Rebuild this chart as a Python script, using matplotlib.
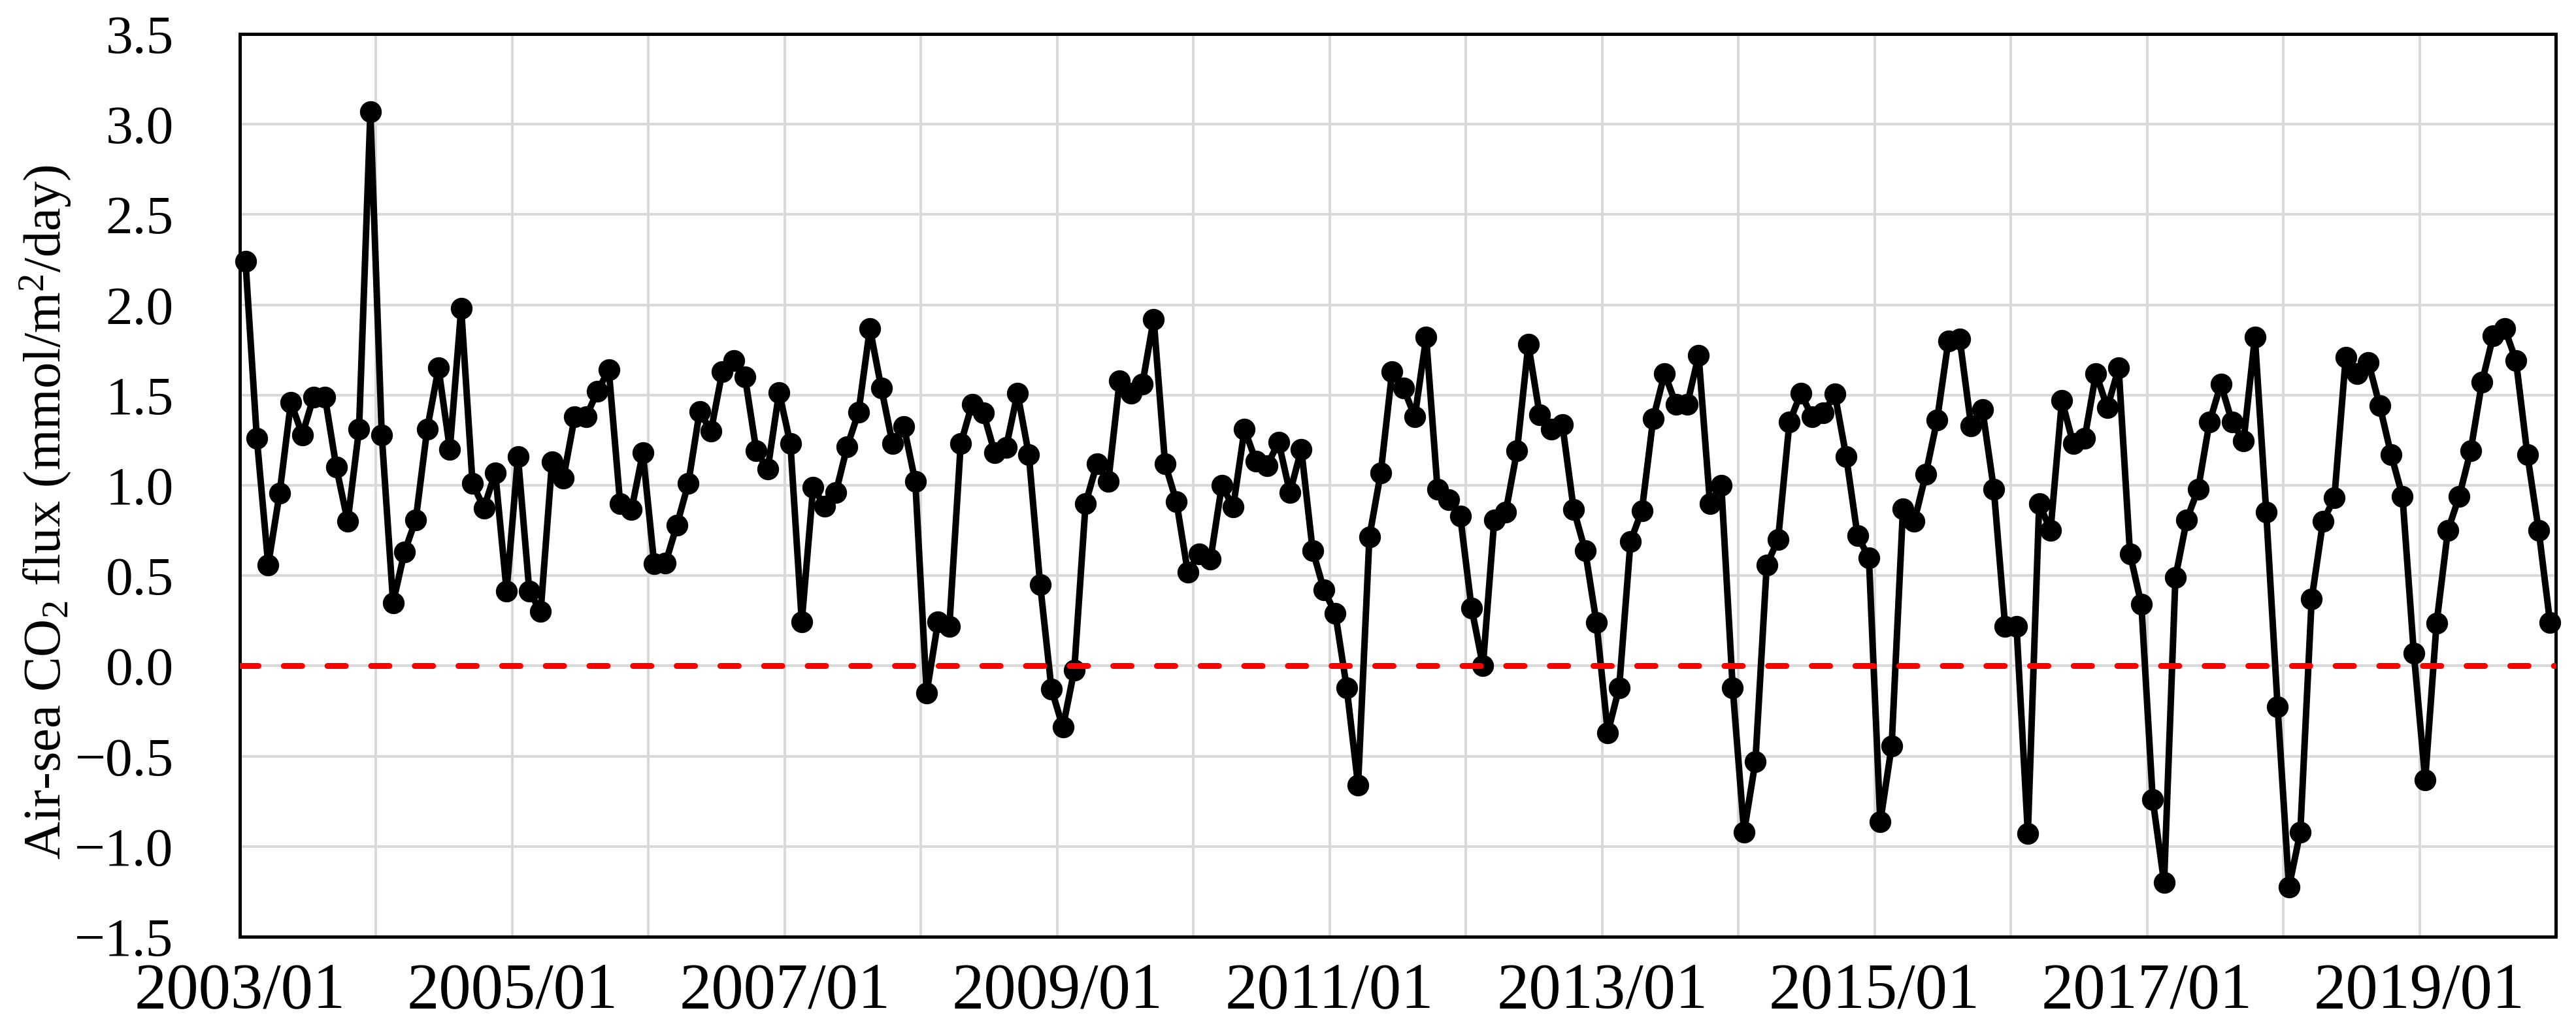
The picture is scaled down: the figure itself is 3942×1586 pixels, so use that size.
import numpy as np
import matplotlib.pyplot as plt

# monthly air-sea CO2 flux, 2003/01 .. 2019/12 (mmol/m2/day)
flux_2003 = [2.24, 1.26, 0.56, 0.955, 1.46, 1.28, 1.49, 1.49, 1.10, 0.80, 1.31, 3.07]
flux_2004 = [1.28, 0.35, 0.63, 0.81, 1.31, 1.65, 1.20, 1.98, 1.01, 0.875, 1.07, 0.415]
flux_2005 = [1.16, 0.415, 0.30, 1.13, 1.04, 1.38, 1.38, 1.52, 1.64, 0.90, 0.865, 1.18]
flux_2006 = [0.565, 0.57, 0.78, 1.01, 1.41, 1.30, 1.63, 1.69, 1.60, 1.19, 1.09, 1.515]
flux_2007 = [1.23, 0.245, 0.99, 0.886, 0.96, 1.215, 1.405, 1.87, 1.54, 1.23, 1.325, 1.02]
flux_2008 = [-0.15, 0.245, 0.22, 1.23, 1.45, 1.40, 1.18, 1.21, 1.51, 1.17, 0.45, -0.13]
flux_2009 = [-0.34, -0.025, 0.90, 1.12, 1.02, 1.58, 1.51, 1.56, 1.92, 1.12, 0.91, 0.52]
flux_2010 = [0.62, 0.59, 1.00, 0.88, 1.31, 1.135, 1.11, 1.24, 0.96, 1.20, 0.64, 0.42]
flux_2011 = [0.29, -0.12, -0.66, 0.715, 1.07, 1.63, 1.54, 1.38, 1.82, 0.98, 0.92, 0.83]
flux_2012 = [0.32, 0.00, 0.81, 0.85, 1.19, 1.78, 1.39, 1.31, 1.335, 0.865, 0.64, 0.24]
flux_2013 = [-0.37, -0.12, 0.69, 0.86, 1.37, 1.62, 1.45, 1.45, 1.72, 0.90, 1.00, -0.12]
flux_2014 = [-0.92, -0.53, 0.56, 0.70, 1.35, 1.51, 1.38, 1.40, 1.505, 1.16, 0.72, 0.60]
flux_2015 = [-0.865, -0.445, 0.87, 0.80, 1.06, 1.36, 1.80, 1.81, 1.33, 1.42, 0.98, 0.22]
flux_2016 = [0.22, -0.93, 0.90, 0.75, 1.47, 1.23, 1.26, 1.62, 1.43, 1.65, 0.62, 0.34]
flux_2017 = [-0.74, -1.20, 0.49, 0.81, 0.98, 1.35, 1.56, 1.35, 1.245, 1.82, 0.85, -0.225]
flux_2018 = [-1.225, -0.92, 0.37, 0.80, 0.93, 1.71, 1.62, 1.68, 1.44, 1.17, 0.94, 0.07]
flux_2019 = [-0.63, 0.235, 0.75, 0.94, 1.19, 1.57, 1.83, 1.87, 1.69, 1.17, 0.75, 0.24]

years = list(range(2003, 2020))
tick_labels = ['%d/01' % y if (y - 2003) % 2 == 0 else '' for y in years] + ['']
y_ticks = [-1.5, -1.0, -0.5, 0.0, 0.5, 1.0, 1.5, 2.0, 2.5, 3.0, 3.5]

flux = np.concatenate([flux_2003, flux_2004, flux_2005, flux_2006, flux_2007,
                       flux_2008, flux_2009, flux_2010, flux_2011, flux_2012,
                       flux_2013, flux_2014, flux_2015, flux_2016, flux_2017,
                       flux_2018, flux_2019])
x = np.arange(len(flux)) + 0.5   # points sit in the middle of each month slot

plt.rcParams['font.family'] = ['Liberation Serif', 'DejaVu Serif']
plt.rcParams['mathtext.fontset'] = 'custom'
plt.rcParams['mathtext.rm'] = 'Liberation Serif'
plt.rcParams['mathtext.it'] = 'Liberation Serif:italic'

W, H = 3942, 1586
fig = plt.figure(figsize=(W / 100, H / 100), dpi=100)
ax = fig.add_axes([367 / W, 1 - 1434 / H, (3911 - 367) / W, (1434 - 52) / H])

ax.plot(x, flux, color='black', lw=7.2, marker='o', ms=23, zorder=3, clip_on=False)
# zero line drawn on top of the series, like the second series in the original
ax.axhline(0, color='red', lw=6.5, dashes=(3.1, 4.3), dash_capstyle='round', zorder=4)

ax.set_xlim(0, len(flux))
ax.set_ylim(-1.5, 3.5)
ax.set_xticks(np.arange(0, len(flux) + 1, 12))
ax.set_xticklabels(tick_labels)
ax.set_yticks(y_ticks)
ax.set_yticklabels([('%.1f' % v).replace('-', '\u2212') for v in y_ticks])

ax.grid(True, color='#d9d9d9', lw=2.9, zorder=0)
ax.set_axisbelow(True)
for s in ax.spines.values():
    s.set_color('black')
    s.set_linewidth(3.6)

ax.tick_params(axis='x', length=0, pad=28, labelsize=71)
ax.tick_params(axis='y', length=0, pad=73, labelsize=60)

ax.set_ylabel('Air-sea CO$_2$ flux (mmol/m$^2$/day)', fontsize=58)
ax.yaxis.set_label_coords(-0.072, 0.47)

fig.savefig('out.png', dpi=100)
